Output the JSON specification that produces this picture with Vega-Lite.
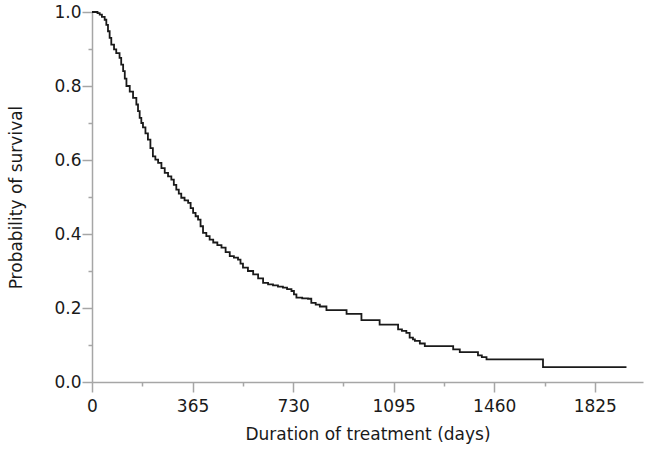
{
  "$schema": "https://vega.github.io/schema/vega-lite/v6.json",
  "autosize": "none",
  "width": 551,
  "height": 370,
  "padding": {"left": 92, "top": 12, "right": 7, "bottom": 71},
  "background": "white",
  "config": {
    "view": {"stroke": null},
    "font": "DejaVu Sans"
  },
  "data": {
    "values": [
      {"day": 0, "surv": 1.0},
      {"day": 20, "surv": 0.997},
      {"day": 28, "surv": 0.993},
      {"day": 36, "surv": 0.987},
      {"day": 46, "surv": 0.979},
      {"day": 52, "surv": 0.965},
      {"day": 58, "surv": 0.948},
      {"day": 64, "surv": 0.93},
      {"day": 70, "surv": 0.912},
      {"day": 80, "surv": 0.899},
      {"day": 88, "surv": 0.889},
      {"day": 100, "surv": 0.876},
      {"day": 106, "surv": 0.858},
      {"day": 113, "surv": 0.84},
      {"day": 119, "surv": 0.82},
      {"day": 125, "surv": 0.8},
      {"day": 137, "surv": 0.785},
      {"day": 149, "surv": 0.768},
      {"day": 161, "surv": 0.75},
      {"day": 167, "surv": 0.732},
      {"day": 173, "surv": 0.714},
      {"day": 179, "surv": 0.7},
      {"day": 185, "surv": 0.688},
      {"day": 194, "surv": 0.672},
      {"day": 203, "surv": 0.655},
      {"day": 212, "surv": 0.632},
      {"day": 221, "surv": 0.61},
      {"day": 230, "surv": 0.601},
      {"day": 240, "surv": 0.592},
      {"day": 252, "surv": 0.578},
      {"day": 264, "surv": 0.565},
      {"day": 276, "surv": 0.556},
      {"day": 288, "surv": 0.547},
      {"day": 297, "surv": 0.533},
      {"day": 306, "surv": 0.52},
      {"day": 315, "surv": 0.509},
      {"day": 324, "surv": 0.498},
      {"day": 336, "surv": 0.491},
      {"day": 349, "surv": 0.484},
      {"day": 358, "surv": 0.47},
      {"day": 367, "surv": 0.457},
      {"day": 376, "surv": 0.448},
      {"day": 385, "surv": 0.439},
      {"day": 394, "surv": 0.421},
      {"day": 403, "surv": 0.403},
      {"day": 415, "surv": 0.394},
      {"day": 427, "surv": 0.385},
      {"day": 440, "surv": 0.377},
      {"day": 455, "surv": 0.37},
      {"day": 470, "surv": 0.363},
      {"day": 485, "surv": 0.351},
      {"day": 500, "surv": 0.34},
      {"day": 515, "surv": 0.336},
      {"day": 530, "surv": 0.331},
      {"day": 539, "surv": 0.32},
      {"day": 548, "surv": 0.309},
      {"day": 566, "surv": 0.3},
      {"day": 585, "surv": 0.291},
      {"day": 603, "surv": 0.28},
      {"day": 621, "surv": 0.268},
      {"day": 639, "surv": 0.264},
      {"day": 657, "surv": 0.261},
      {"day": 675, "surv": 0.258},
      {"day": 693, "surv": 0.255},
      {"day": 708, "surv": 0.251},
      {"day": 724, "surv": 0.246},
      {"day": 733, "surv": 0.237},
      {"day": 742, "surv": 0.228},
      {"day": 763, "surv": 0.226},
      {"day": 784, "surv": 0.225},
      {"day": 796, "surv": 0.214},
      {"day": 812, "surv": 0.209},
      {"day": 827, "surv": 0.204},
      {"day": 851, "surv": 0.194},
      {"day": 924, "surv": 0.184},
      {"day": 978, "surv": 0.167},
      {"day": 1044, "surv": 0.155},
      {"day": 1111, "surv": 0.142},
      {"day": 1125, "surv": 0.138},
      {"day": 1141, "surv": 0.133},
      {"day": 1153, "surv": 0.12},
      {"day": 1165, "surv": 0.115},
      {"day": 1172, "surv": 0.111},
      {"day": 1190, "surv": 0.104},
      {"day": 1208, "surv": 0.097},
      {"day": 1311, "surv": 0.088},
      {"day": 1335, "surv": 0.081},
      {"day": 1401, "surv": 0.072},
      {"day": 1415, "surv": 0.067},
      {"day": 1432, "surv": 0.061},
      {"day": 1637, "surv": 0.04},
      {"day": 1940, "surv": 0.04}
    ]
  },
  "mark": {"type": "line", "interpolate": "step-after", "color": "#1a1a1a", "strokeWidth": 1.8},
  "encoding": {
    "x": {
      "field": "day",
      "type": "quantitative",
      "scale": {"domain": [0, 2000], "nice": false, "zero": true},
      "axis": {
        "title": "Duration of treatment (days)",
        "values": [0, 182.5, 365, 547.5, 730, 912.5, 1095, 1277.5, 1460, 1642.5, 1825],
        "labelExpr": "datum.value % 365 === 0 ? format(datum.value, 'd') : ''",
        "tickSize": {"expr": "datum.value % 365 === 0 ? 10 : 4"},
        "grid": false,
        "domainColor": "#a6a6a6",
        "tickColor": "#a6a6a6",
        "domainWidth": 1.5,
        "tickWidth": 1.5,
        "labelFontSize": 17,
        "labelColor": "#1a1a1a",
        "labelPadding": 6,
        "labelFlush": false,
        "labelOverlap": false,
        "titleFontSize": 17,
        "titleFontWeight": "normal",
        "titleColor": "#1a1a1a",
        "titlePadding": 12
      }
    },
    "y": {
      "field": "surv",
      "type": "quantitative",
      "scale": {"domain": [0, 1], "nice": false},
      "axis": {
        "title": "Probability of survival",
        "values": [0, 0.1, 0.2, 0.3, 0.4, 0.5, 0.6, 0.7, 0.8, 0.9, 1.0],
        "labelExpr": "round(datum.value * 10) % 2 === 0 ? format(datum.value, '.1f') : ''",
        "tickSize": {"expr": "round(datum.value * 10) % 2 === 0 ? 10 : 4"},
        "grid": false,
        "domainColor": "#a6a6a6",
        "tickColor": "#a6a6a6",
        "domainWidth": 1.5,
        "tickWidth": 1.5,
        "labelFontSize": 17,
        "labelColor": "#1a1a1a",
        "labelPadding": 1,
        "labelFlush": false,
        "labelOverlap": false,
        "titleFontSize": 17,
        "titleFontWeight": "normal",
        "titleColor": "#1a1a1a",
        "titlePadding": 28
      }
    }
  }
}
